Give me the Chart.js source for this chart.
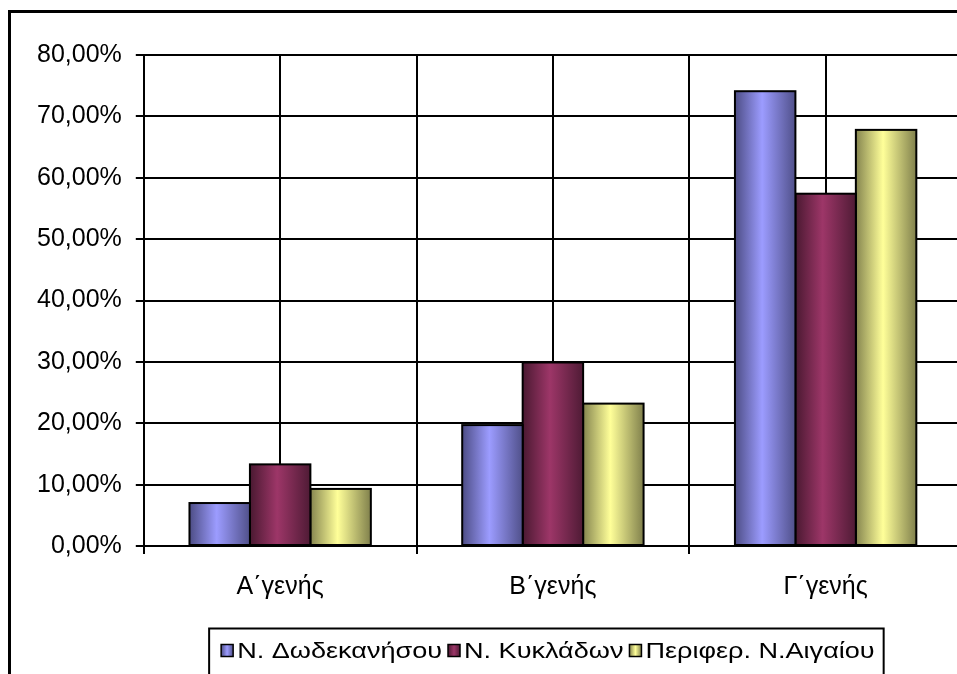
<!DOCTYPE html>
<html>
<head>
<meta charset="utf-8">
<script src="https://cdn.jsdelivr.net/npm/chart.js@4/dist/chart.umd.min.js"></script>
<style>
  html, body { margin: 0; padding: 0; background: #fff; overflow: hidden; }
  #wrap { position: absolute; left: 0; top: 0; width: 1092px; height: 700px; }
  #frame { position: absolute; left: 8px; top: 10px; width: 1100px; height: 800px; border: 3px solid #000; pointer-events: none; }
</style>
</head>
<body>
<div id="wrap"><canvas id="graphique"></canvas></div>
<div id="frame"></div>
<script>
// categories et valeurs (en %)
const categories = ['Α΄γενής', 'Β΄γενής', 'Γ΄γενής'];
const dodecanisou = [7.0, 19.7, 74.1];
const kykladon = [13.3, 29.9, 57.4];
const aigaiou = [9.3, 23.2, 67.8];
const seriesNames = ['Ν. Δωδεκανήσου', 'Ν. Κυκλάδων', 'Περιφερ. Ν.Αιγαίου'];

const baseColors = ['#9999ff', '#993366', '#ffff99'];
// ombrage horizontal des barres (bord gauche, centre, bord droit)
const shades = [
    ['#4d4d85', '#9c9cff', '#50508a'],
    ['#4a1931', '#9d3668', '#4f1b35'],
    ['#85854f', '#ffff99', '#80804c']
];

const FONT = '"Liberation Sans", Arial, sans-serif';

const shadePlugin = {
    id: 'shade',
    afterDatasetDraw(chart, args) {
        const ctx = chart.ctx;
        const cols = shades[args.index];
        args.meta.data.forEach(bar => {
            const p = bar.getProps(['x', 'y', 'base', 'width'], true);
            const l = p.x - p.width / 2;
            const g = ctx.createLinearGradient(l, 0, l + p.width, 0);
            g.addColorStop(0, cols[0]);
            g.addColorStop(0.45, cols[1]);
            g.addColorStop(1, cols[2]);
            ctx.save();
            ctx.fillStyle = g;
            ctx.fillRect(l, p.y, p.width, p.base - p.y);
            ctx.lineWidth = 2;
            ctx.strokeStyle = '#000';
            ctx.strokeRect(l, p.y, p.width, p.base - p.y);
            ctx.restore();
        });
    }
};

// légende dessinée à la main (texte un peu élargi comme dans l'original) + cadre
const legendPlugin = {
    id: 'legendMain',
    afterDraw(chart) {
        const ctx = chart.ctx;
        const area = chart.chartArea;
        const stretch = 1.23;
        const sq = 12, gapTxt = 4, gapItem = 6;
        ctx.save();
        ctx.font = '22px ' + FONT;
        const widths = seriesNames.map(n => ctx.measureText(n).width * stretch);
        let total = 0;
        widths.forEach((w, i) => { total += sq + gapTxt + w + (i < widths.length - 1 ? gapItem : 0); });
        const cx = (area.left + area.right) / 2 - 5;
        const cy = area.bottom + 104.5;
        let x = cx - total / 2;
        const startX = x;
        ctx.strokeStyle = '#000';
        ctx.textBaseline = 'middle';
        seriesNames.forEach((n, i) => {
            const g = ctx.createLinearGradient(x, 0, x + sq, 0);
            g.addColorStop(0, shades[i][0]);
            g.addColorStop(0.5, shades[i][1]);
            g.addColorStop(1, shades[i][2]);
            ctx.fillStyle = g;
            ctx.fillRect(x, cy - sq / 2, sq, sq);
            ctx.lineWidth = 1.5;
            ctx.strokeRect(x, cy - sq / 2, sq, sq);
            x += sq + gapTxt;
            ctx.save();
            ctx.translate(x, cy);
            ctx.scale(stretch, 1);
            ctx.fillStyle = '#000';
            ctx.fillText(n, 0, 1);
            ctx.restore();
            x += widths[i] + gapItem;
        });
        const endX = x - gapItem;
        ctx.lineWidth = 2;
        ctx.strokeRect(startX - 12, area.bottom + 82.5, endX - startX + 21, 200);
        ctx.restore();
    }
};

new Chart(document.getElementById('graphique'), {
    type: 'bar',
    data: {
        labels: categories,
        datasets: [
            { label: seriesNames[0], data: dodecanisou, backgroundColor: baseColors[0], borderColor: '#000', borderWidth: 1 },
            { label: seriesNames[1], data: kykladon, backgroundColor: baseColors[1], borderColor: '#000', borderWidth: 1 },
            { label: seriesNames[2], data: aigaiou, backgroundColor: baseColors[2], borderColor: '#000', borderWidth: 1 }
        ]
    },
    options: {
        responsive: true,
        maintainAspectRatio: false,
        animation: false,
        datasets: { bar: { categoryPercentage: 0.665, barPercentage: 1 } },
        layout: { padding: { left: 23, right: 130, top: 55, bottom: 80 } },
        scales: {
            x: {
                offset: true,
                grid: { offset: true, color: '#000', lineWidth: 2, tickLength: 8, tickColor: '#000' },
                border: { color: '#000', width: 2 },
                ticks: { color: '#000', font: { family: FONT, size: 25 }, padding: 18 }
            },
            x2: {
                type: 'category',
                labels: categories,
                position: 'bottom',
                offset: true,
                grid: { offset: false, color: '#000', lineWidth: 2, drawTicks: false },
                border: { display: false },
                ticks: { display: false }
            },
            y: {
                min: 0,
                max: 80,
                ticks: {
                    stepSize: 10,
                    color: '#000',
                    padding: 14,
                    font: { family: FONT, size: 25 },
                    callback: v => v.toFixed(2).replace('.', ',') + '%'
                },
                grid: { color: '#000', lineWidth: 2, tickLength: 8, tickColor: '#000' },
                border: { color: '#000', width: 2 }
            }
        },
        plugins: {
            legend: { display: false },
            tooltip: { enabled: false },
            title: { display: false }
        }
    },
    plugins: [shadePlugin, legendPlugin]
});
</script>
</body>
</html>
